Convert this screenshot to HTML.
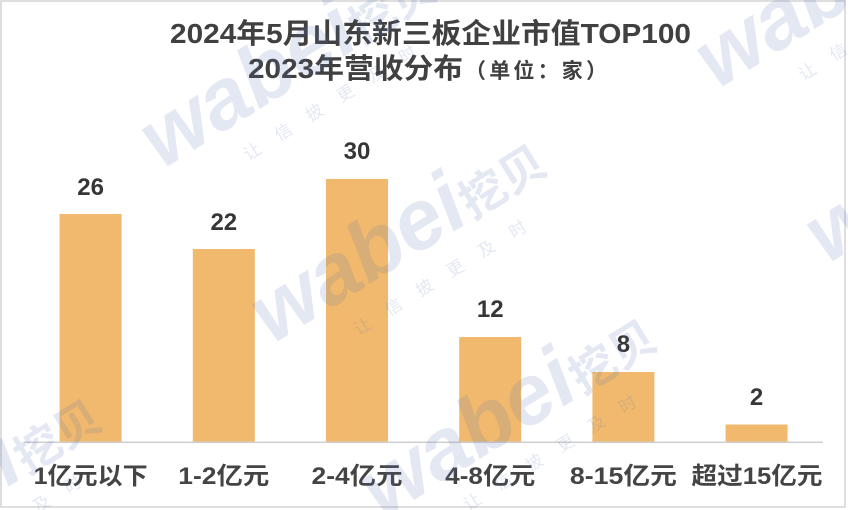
<!DOCTYPE html>
<html><head><meta charset="utf-8"><style>
html,body{margin:0;padding:0;background:#fff;width:848px;height:510px;overflow:hidden;}
svg{display:block;}
</style></head><body>
<svg xmlns="http://www.w3.org/2000/svg" width="848" height="510" viewBox="0 0 848 510" overflow="hidden">
<defs>
<g id="wm">
<text x="0" y="0" font-family="'Liberation Sans','Noto Sans CJK SC',sans-serif" font-weight="bold" font-style="italic" font-size="85">wabei<tspan font-size="46" font-style="normal">挖贝</tspan></text>
<text x="78" y="38" font-family="'Noto Sans CJK SC',sans-serif" font-size="17" textLength="200" lengthAdjust="spacing">让信披更及时</text>
</g>
<pattern id="wmp" patternUnits="userSpaceOnUse" x="0" y="0" width="848" height="510">
<g fill="#5a6eb4" fill-opacity="0.16">
<use href="#wm" transform="translate(272,345) rotate(-32)"/>
<use href="#wm" transform="translate(162,170) rotate(-32)"/>
<use href="#wm" transform="translate(717,90) rotate(-32)"/>
<use href="#wm" transform="translate(382,520) rotate(-32)"/>
<use href="#wm" transform="translate(827,265) rotate(-32)"/>
<use href="#wm" transform="translate(-173,600) rotate(-32)"/>
<use href="#wm" transform="translate(-283,425) rotate(-32)"/>
<use href="#wm" transform="translate(52,-5) rotate(-32)"/>
<use href="#wm" transform="translate(607,-85) rotate(-32)"/>
</g>
</pattern>
</defs>
<rect x="0" y="0" width="848" height="510" fill="#fff"/>
<rect x="1" y="1" width="844" height="506" fill="none" stroke="#d6d6d6" stroke-width="1.6"/>

<!-- Title -->
<g font-family="'Liberation Sans','Noto Sans CJK SC',sans-serif" font-weight="bold" fill="#404040">
<text x="170" y="43" font-size="28" textLength="521" lengthAdjust="spacingAndGlyphs">2024年5月山东新三板企业市值TOP100</text>
<text x="248" y="78" font-size="28" textLength="215" lengthAdjust="spacingAndGlyphs">2023年营收分布</text>
<text x="465" y="78" font-size="21" textLength="142" lengthAdjust="spacing">（单位：家）</text>
</g>

<!-- Bars -->
<g fill="#F0B96D">
<rect x="59.6" y="214" width="62" height="228"/>
<rect x="192.8" y="249" width="62" height="193"/>
<rect x="326" y="179" width="62" height="263"/>
<rect x="459.2" y="337" width="62" height="105"/>
<rect x="592.4" y="372" width="62" height="70"/>
<rect x="725.6" y="424.5" width="62" height="17.5"/>
</g>
<rect x="24" y="441.5" width="799" height="1.6" fill="#d0d0d0"/>

<!-- Value labels -->
<g font-family="'Liberation Sans',sans-serif" font-weight="bold" font-size="24" fill="#363636" text-anchor="middle">
<text x="90.6" y="195">26</text>
<text x="223.8" y="230">22</text>
<text x="357" y="159">30</text>
<text x="490.2" y="317">12</text>
<text x="623.4" y="352">8</text>
<text x="756.6" y="405">2</text>
</g>

<!-- Category labels -->
<g font-family="'Liberation Sans','Noto Sans CJK SC',sans-serif" font-weight="bold" font-size="24" fill="#444" text-anchor="middle">
<text x="90.6" y="484" textLength="114" lengthAdjust="spacingAndGlyphs">1亿元以下</text>
<text x="223.8" y="484" textLength="91" lengthAdjust="spacingAndGlyphs">1-2亿元</text>
<text x="357" y="484" textLength="91" lengthAdjust="spacingAndGlyphs">2-4亿元</text>
<text x="490.2" y="484" textLength="90" lengthAdjust="spacingAndGlyphs">4-8亿元</text>
<text x="623.4" y="484" textLength="107" lengthAdjust="spacingAndGlyphs">8-15亿元</text>
<text x="757" y="484" textLength="131" lengthAdjust="spacingAndGlyphs">超过15亿元</text>
</g>

<!-- Watermark overlay -->
<rect x="0" y="0" width="848" height="510" fill="url(#wmp)"/>
</svg>
</body></html>
